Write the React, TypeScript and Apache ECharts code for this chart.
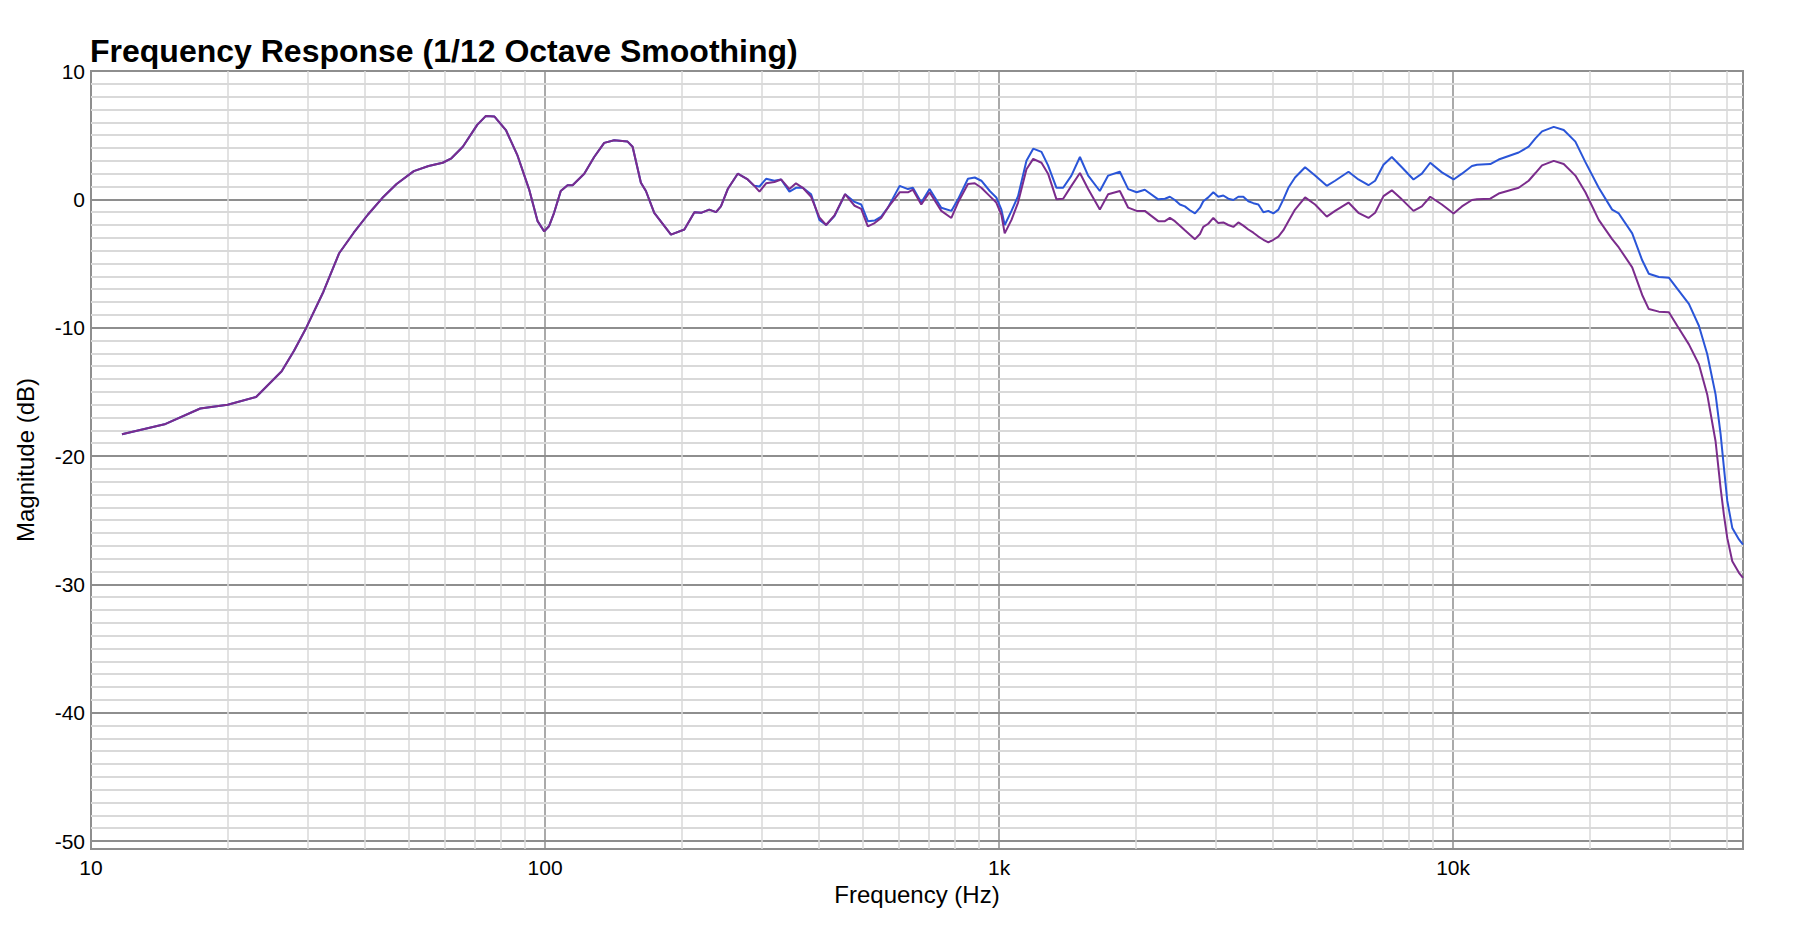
import { useEffect, useRef } from 'react';
import * as echarts from 'echarts';

// Frequencies (Hz), shared by both traces
const FREQ_HZ = [
  11.7, 14.6, 17.4, 20, 23.1, 26.3, 28, 29.8, 32.5, 35.2,
  37.9, 40.7, 43.8, 47.1, 51.4, 55.4, 59.5, 62.2, 65.9, 70.9,
  74.1, 77.4, 82, 87, 92.2, 96.3, 99.6, 102, 104.7, 108.3,
  112.1, 115, 122, 128.3, 135, 142, 152, 155.9, 162.6, 166.8,
  174, 189.4, 202.7, 213.3, 220.6, 230, 238, 244, 252.6, 265.7,
  279.5, 289, 296.7, 306.8, 320, 331, 345.4, 357, 369.6, 385.5,
  402, 416, 434, 458, 480.6, 497, 514, 532, 550, 569,
  604, 630, 646, 674, 703, 746, 785, 812, 854, 884,
  914, 954, 986, 1012, 1029, 1065, 1101, 1149, 1189, 1240,
  1282, 1338, 1384, 1443, 1507, 1571, 1667, 1739, 1845, 1925,
  2009, 2094, 2241, 2319, 2378, 2439, 2502, 2566, 2632, 2701,
  2770, 2817, 2889, 2964, 3040, 3118, 3198, 3281, 3365, 3451,
  3540, 3631, 3725, 3821, 3919, 4019, 4123, 4229, 4337, 4486,
  4721, 4966, 5269, 5496, 5883, 6186, 6510, 6734, 7026, 7328,
  7709, 8180, 8534, 8904, 9447, 10024, 10457, 11003, 11285, 12075,
  12600, 13945, 14670, 15180, 15700, 16660, 17525, 18590, 19560, 20930,
  22400, 23170, 24800, 26090, 26980, 28390, 29870, 31160, 33060, 34780,
  36280, 37850, 38830, 39490, 40170, 41200, 42620, 43500,
];

const BLUE_DB = [
  -18.3, -17.5, -16.3, -16.0, -15.4, -13.4, -11.8, -10.0, -7.2, -4.2,
  -2.6, -1.2, 0.1, 1.2, 2.2, 2.6, 2.85, 3.2, 4.1, 5.8,
  6.5, 6.45, 5.4, 3.4, 0.8, -1.7, -2.5, -2.1, -1.05, 0.65,
  1.1, 1.1, 2.0, 3.3, 4.4, 4.6, 4.5, 4.1, 1.3, 0.65,
  -1.05, -2.75, -2.35, -1.0, -1.05, -0.8, -1.0, -0.55, 0.8, 2.0,
  1.55, 1.05, 1.0, 1.6, 1.45, 1.55, 0.6, 0.9, 0.9, 0.4,
  -1.6, -2.0, -1.3, 0.4, -0.2, -0.4, -1.7, -1.65, -1.35, -0.65,
  1.05, 0.8, 0.9, -0.25, 0.8, -0.65, -0.9, 0, 1.6, 1.7,
  1.45, 0.65, 0.15, -0.8, -2.0, -0.9, 0.25, 3.0, 3.95, 3.7,
  2.65, 0.9, 0.9, 1.85, 3.3, 1.85, 0.65, 1.85, 2.15, 0.8,
  0.55, 0.75, 0, 0.05, 0.2, -0.05, -0.4, -0.55, -0.85, -1.1,
  -0.65, -0.15, 0.15, 0.55, 0.2, 0.3, 0.05, -0.05, 0.2, 0.2,
  -0.15, -0.3, -0.4, -1.0, -0.9, -1.1, -0.8, 0, 0.9, 1.7,
  2.5, 1.85, 1.05, 1.45, 2.15, 1.55, 1.1, 1.45, 2.7, 3.3,
  2.5, 1.55, 2.0, 2.85, 2.1, 1.55, 2.0, 2.6, 2.7, 2.75,
  3.1, 3.65, 4.1, 4.75, 5.3, 5.65, 5.4, 4.5, 2.9, 0.9,
  -0.8, -1.1, -2.65, -4.75, -5.8, -6.05, -6.1, -6.95, -8.15, -9.85,
  -12.05, -15.2, -18.3, -20.9, -23.5, -25.6, -26.5, -26.9,
];

const PURPLE_DB = [
  -18.3, -17.5, -16.3, -16.0, -15.4, -13.4, -11.8, -10.0, -7.2, -4.2,
  -2.6, -1.2, 0.1, 1.2, 2.2, 2.6, 2.85, 3.2, 4.1, 5.8,
  6.5, 6.45, 5.4, 3.4, 0.8, -1.7, -2.5, -2.1, -1.05, 0.65,
  1.1, 1.1, 2.0, 3.3, 4.4, 4.6, 4.5, 4.1, 1.3, 0.65,
  -1.05, -2.75, -2.35, -1.0, -1.05, -0.8, -1.0, -0.55, 0.8, 2.0,
  1.55, 1.05, 0.6, 1.25, 1.35, 1.55, 0.8, 1.25, 0.9, 0.2,
  -1.4, -2.0, -1.25, 0.4, -0.5, -0.75, -2.1, -1.85, -1.45, -0.65,
  0.55, 0.55, 0.75, -0.4, 0.55, -0.9, -1.45, -0.25, 1.2, 1.25,
  0.9, 0.25, -0.25, -1.2, -2.65, -1.6, -0.25, 2.35, 3.15, 2.85,
  2.0, 0, 0.05, 1.05, 2.05, 0.8, -0.8, 0.4, 0.65, -0.65,
  -0.9, -0.9, -1.7, -1.7, -1.45, -1.7, -2.05, -2.4, -2.75, -3.1,
  -2.7, -2.15, -1.9, -1.45, -1.85, -1.8, -2.0, -2.15, -1.8, -2.05,
  -2.35, -2.6, -2.9, -3.15, -3.35, -3.15, -2.9, -2.4, -1.7, -0.8,
  0.15, -0.4, -1.35, -0.9, -0.25, -1.05, -1.45, -1.05, 0.25, 0.7,
  0, -0.9, -0.55, 0.2, -0.4, -1.1, -0.55, -0.05, 0, 0.05,
  0.45, 0.9, 1.45, 2.05, 2.65, 3.0, 2.75, 1.85, 0.55, -1.6,
  -3.1, -3.75, -5.3, -7.45, -8.55, -8.75, -8.8, -9.85, -11.3, -12.85,
  -15.2, -18.85, -22.5, -24.6, -26.4, -28.2, -29.1, -29.5,
];

// light grid lines
const MINOR_FREQ_HZ = [
  20, 30, 40, 50, 60, 70, 80, 90,
  200, 300, 400, 500, 600, 700, 800, 900,
  2000, 3000, 4000, 5000, 6000, 7000, 8000, 9000,
  20000, 30000, 40000,
];
const MINOR_DB = [
  -49, -48, -47, -46, -45, -44, -43, -42, -41,
  -39, -38, -37, -36, -35, -34, -33, -32, -31,
  -29, -28, -27, -26, -25, -24, -23, -22, -21,
  -19, -18, -17, -16, -15, -14, -13, -12, -11,
  -9, -8, -7, -6, -5, -4, -3, -2, -1,
  1, 2, 3, 4, 5, 6, 7, 8, 9,
];

const FREQ_LABELS: Record<number, string> = { 10: '10', 100: '100', 1000: '1k', 10000: '10k' };

const X_MIN = 10;
const X_MAX = 43500;
const Y_MIN = -50.62;
const Y_MAX = 10;

const FONT = '"Liberation Sans", Arial, Helvetica, sans-serif';

export default function App() {
  const chartRef = useRef<HTMLDivElement>(null);

  useEffect(() => {
    if (!chartRef.current) return;
    const chart = echarts.init(chartRef.current, undefined, { renderer: 'svg' });

    const option: echarts.EChartsOption = {
      animation: false,
      backgroundColor: '#ffffff',
      title: {
        text: 'Frequency Response (1/12 Octave Smoothing)',
        left: 90,
        top: 35,
        padding: 0,
        textStyle: { fontFamily: FONT, fontWeight: 'bold', fontSize: 32, color: '#000' },
      },
      grid: {
        left: 91,
        right: 65,
        top: 71,
        bottom: 77,
        show: true,
        borderColor: '#8e8e8e',
        borderWidth: 2,
      },
      xAxis: {
        type: 'log',
        logBase: 10,
        min: X_MIN,
        max: X_MAX,
        name: 'Frequency (Hz)',
        nameLocation: 'middle',
        nameGap: 33,
        nameTextStyle: { fontFamily: FONT, fontSize: 24, color: '#000' },
        axisLine: { show: false },
        axisTick: { show: false },
        axisLabel: {
          margin: 8,
          fontFamily: FONT,
          fontSize: 21,
          color: '#000',
          formatter: (v: number) => FREQ_LABELS[Math.round(v)] ?? '',
        },
        splitLine: { show: true, lineStyle: { color: '#8e8e8e', width: 1.5 } },
      },
      yAxis: {
        type: 'value',
        min: Y_MIN,
        max: Y_MAX,
        name: 'Magnitude (dB)',
        nameLocation: 'middle',
        nameGap: 54,
        nameTextStyle: { fontFamily: FONT, fontSize: 24, color: '#000' },
        axisLine: { show: false },
        axisTick: { show: false },
        axisLabel: {
          margin: 6,
          fontFamily: FONT,
          fontSize: 21,
          color: '#000',
          formatter: (v: number) => (Math.abs(v % 10) < 1e-6 ? String(Math.round(v)) : ''),
        },
        splitLine: { show: true, lineStyle: { color: '#8e8e8e', width: 2 } },
      },
      series: [
        {
          type: 'line',
          name: 'grid',
          data: [],
          silent: true,
          z: 1,
          markLine: {
            silent: true,
            symbol: 'none',
            z: 1,
            label: { show: false },
            data: [
              ...MINOR_FREQ_HZ.map((f) => ({ xAxis: f, lineStyle: { color: '#d9d9d9', width: 1.5, type: 'solid' as const } })),
              ...MINOR_DB.map((d) => ({ yAxis: d, lineStyle: { color: '#d9d9d9', width: 2, type: 'solid' as const } })),
            ],
          },
        },
        {
          type: 'line',
          name: 'Measurement A',
          data: FREQ_HZ.map((f, i) => [f, BLUE_DB[i]]),
          showSymbol: false,
          z: 3,
          lineStyle: { color: '#2a55d8', width: 2 },
        },
        {
          type: 'line',
          name: 'Measurement B',
          data: FREQ_HZ.map((f, i) => [f, PURPLE_DB[i]]),
          showSymbol: false,
          z: 4,
          lineStyle: { color: '#7b2c8c', width: 2 },
        },
      ],
    };

    chart.setOption(option);

    return () => {
      chart.dispose();
    };
  }, []);

  return (
    <div
      ref={chartRef}
      style={{ position: 'fixed', left: 0, top: 0, width: 1808, height: 926, background: '#fff' }}
    />
  );
}
